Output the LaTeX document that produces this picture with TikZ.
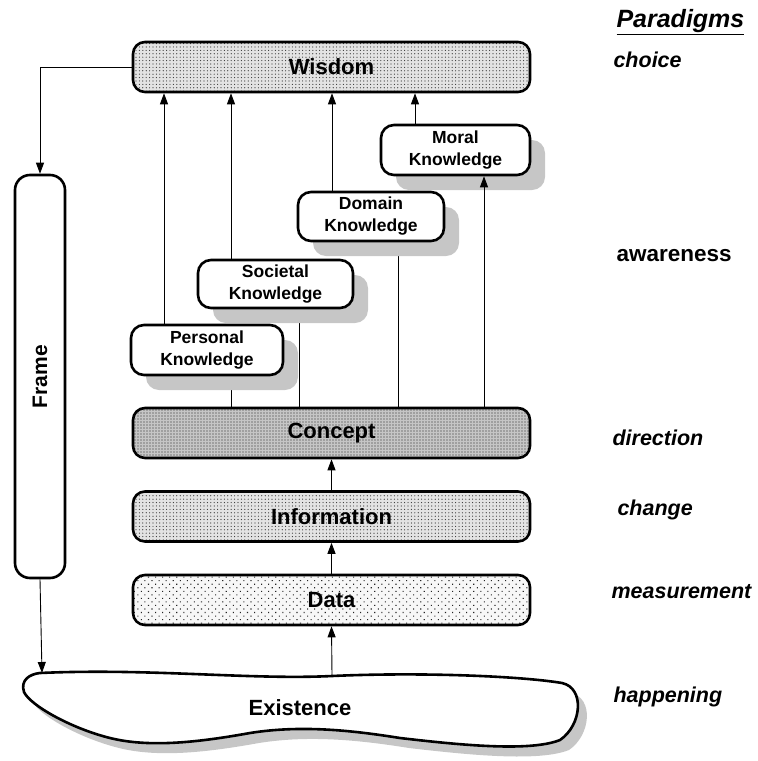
\documentclass[tikz,border=0pt]{standalone}
\usepackage{fontspec}
\setmainfont{Liberation Sans}
\usetikzlibrary{arrows.meta,shadows,patterns.meta}
\begin{document}
\begin{tikzpicture}[x=1pt,y=-1pt,
  every node/.style={font=\bfseries},
  lvl/.style={draw, line width=2.6pt, rounded corners=12pt, inner sep=0pt,
    minimum width=397pt, minimum height=50pt, font=\fontsize{22}{26}\selectfont\bfseries},
  dotsA/.style={preaction={fill=gray!22}, pattern={Dots[distance=3.4pt,radius=0.6pt]}, pattern color=black!80},
  dotsB/.style={preaction={fill=gray!45}, pattern={Dots[distance=3pt,radius=0.7pt]}, pattern color=black!85},
  dotsC/.style={preaction={fill=gray!6}, pattern={Dots[distance=5pt,radius=0.75pt,angle=45]}, pattern color=black!85},
  know/.style={draw, fill=white, line width=2.6pt, rounded corners=13pt, inner sep=0pt,
    align=center, font=\fontsize{17.5}{22}\selectfont\bfseries,
    drop shadow={shadow xshift=15pt, shadow yshift=-15pt, fill=gray!45, opacity=1}},
  arr/.style={line width=0.9pt, -{Triangle[length=11pt,width=8pt]}},
  link/.style={line width=0.9pt},
  para/.style={anchor=west, font=\fontsize{21.5}{26}\selectfont\bfseries\itshape}
]
\useasboundingbox (0,0) rectangle (758,761);

% stacked levels
\node[lvl, dotsA] (wisdom) at (331.5,67) {Wisdom};
\node[lvl, dotsB] (concept) at (331.5,433) {Concept};
\node[lvl, dotsA] (info) at (331.5,516.5) {Information};
\node[lvl, dotsC] (data) at (331.5,600) {Data};

% frame column
\node[draw, fill=white, line width=2.6pt, rounded corners=15pt, minimum width=50pt,
  minimum height=403pt, inner sep=0pt] (frame) at (40,376.5)
  {\rotatebox{90}{\fontsize{21}{24}\selectfont\bfseries Frame}};

% existence outline with its shadow
\fill[gray!45, shift={(9,10)}]
  (40,673) .. controls (150,668) and (250,680) .. (332,676)
  .. controls (420,672) and (520,676) .. (562,683)
  .. controls (585,688) and (582,725) .. (560,740)
  .. controls (530,752) and (460,745) .. (400,738)
  .. controls (350,730) and (300,725) .. (250,733)
  .. controls (200,742) and (150,748) .. (110,738)
  .. controls (70,728) and (30,705) .. (24,692)
  .. controls (20,680) and (30,674) .. (40,673) -- cycle;
\draw[line width=2.6pt, fill=white]
  (40,673) .. controls (150,668) and (250,680) .. (332,676)
  .. controls (420,672) and (520,676) .. (562,683)
  .. controls (585,688) and (582,725) .. (560,740)
  .. controls (530,752) and (460,745) .. (400,738)
  .. controls (350,730) and (300,725) .. (250,733)
  .. controls (200,742) and (150,748) .. (110,738)
  .. controls (70,728) and (30,705) .. (24,692)
  .. controls (20,680) and (30,674) .. (40,673) -- cycle;
\node[font=\fontsize{22}{26}\selectfont\bfseries] (existence) at (300,708) {Existence};
\coordinate (exleft) at (42,673);
\coordinate (extop) at (332,675);

% column positions for the knowledge links
\coordinate (c1) at (164,0);
\coordinate (c2) at (231,0);
\coordinate (c3) at (299,0);
\coordinate (c4) at (332,0);
\coordinate (c5) at (398,0);
\coordinate (c6) at (415,0);
\coordinate (c7) at (484,0);

% plain links from concept, drawn below the knowledge boxes
\coordinate (personalbase) at (231,375);
\coordinate (societalbase) at (299,308);
\coordinate (domainbase) at (398,241);
\draw[link] (concept.north -| c2) -- (personalbase);
\draw[link] (concept.north -| c3) -- (societalbase);
\draw[link] (concept.north -| c5) -- (domainbase);

% knowledge boxes
\node[know, minimum width=152pt, minimum height=50pt] (personal) at (207,350) {Personal\\Knowledge};
\node[know, minimum width=155pt, minimum height=48pt] (societal) at (275.5,284) {Societal\\Knowledge};
\node[know, minimum width=146pt, minimum height=49pt] (domain) at (371,216.5) {Domain\\Knowledge};
\node[know, minimum width=149pt, minimum height=50pt] (moral) at (455.5,150) {Moral\\Knowledge};

% arrows up into wisdom
\draw[arr] (personal.north -| c1) -- (wisdom.south -| c1);
\draw[arr] (societal.north -| c2) -- (wisdom.south -| c2);
\draw[arr] (domain.north -| c4) -- (wisdom.south -| c4);
\draw[arr] (moral.north -| c6) -- (wisdom.south -| c6);
\draw[arr] (concept.north -| c7) -- (moral.south -| c7);

% main chain
\draw[arr] (extop) -- (data.south);
\draw[arr] (data.north) -- (info.south);
\draw[arr] (info.north) -- (concept.south);

% frame loop
\draw[arr] (wisdom.west) -| (frame.north);
\draw[arr] (frame.south) -- (exleft);

% paradigms column
\node[anchor=west, font=\fontsize{25}{28}\selectfont\bfseries\itshape] (paradigms) at (613,22) {\underline{Paradigms}};
\node[para] (choice) at (610,60) {choice};
\node[para, font=\fontsize{22.5}{26}\selectfont\bfseries] (awareness) at (613,256) {awareness};
\node[para] (direction) at (609,438) {direction};
\node[para] (change) at (614,510) {change};
\node[para] (measurement) at (608,592) {measurement};
\node[para] (happening) at (610,697) {happening};
\end{tikzpicture}
\end{document}
